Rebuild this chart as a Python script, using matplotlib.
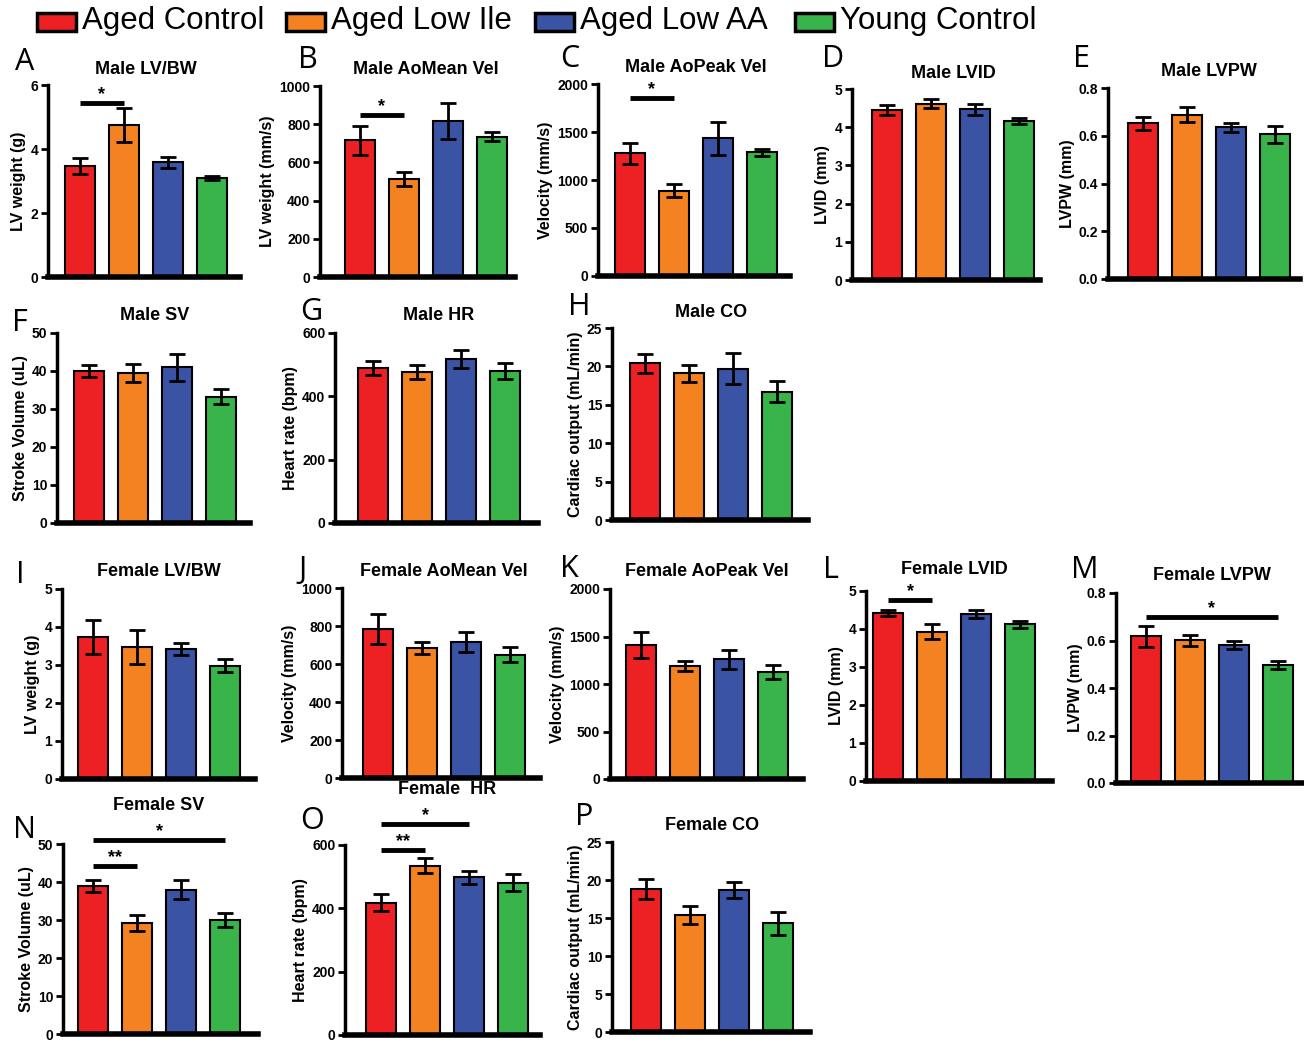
import matplotlib.pyplot as plt
from matplotlib.patches import Rectangle

W, H = 1304, 1047

groups = ["Aged Control", "Aged Low Ile", "Aged Low AA", "Young Control"]
colors = ["#ED2024", "#F58220", "#3A53A4", "#38B44A"]

# mean and SEM per group
male_lvbw = [3.48, 4.75, 3.58, 3.10]
male_lvbw_sem = [0.25, 0.52, 0.18, 0.07]
male_aomean = [715, 513, 818, 735]
male_aomean_sem = [78, 38, 93, 22]
male_aopeak = [1280, 890, 1435, 1290]
male_aopeak_sem = [110, 65, 170, 35]
male_lvid = [4.45, 4.62, 4.47, 4.17]
male_lvid_sem = [0.12, 0.13, 0.15, 0.08]
male_lvpw = [0.652, 0.688, 0.635, 0.606]
male_lvpw_sem = [0.028, 0.032, 0.020, 0.035]
male_sv = [40.0, 39.5, 41.0, 33.2]
male_sv_sem = [1.7, 2.4, 3.5, 2.0]
male_hr = [490, 477, 518, 481]
male_hr_sem = [22, 22, 27, 25]
male_co = [20.4, 19.1, 19.7, 16.7]
male_co_sem = [1.2, 1.1, 2.0, 1.35]

female_lvbw = [3.73, 3.47, 3.43, 2.98]
female_lvbw_sem = [0.45, 0.45, 0.16, 0.17]
female_aomean = [783, 683, 715, 650]
female_aomean_sem = [78, 32, 53, 42]
female_aopeak = [1410, 1190, 1260, 1130]
female_aopeak_sem = [140, 55, 100, 75]
female_lvid = [4.43, 3.93, 4.40, 4.12]
female_lvid_sem = [0.08, 0.19, 0.11, 0.10]
female_lvpw = [0.617, 0.601, 0.582, 0.496]
female_lvpw_sem = [0.045, 0.023, 0.018, 0.017]
female_sv = [39.0, 29.2, 38.0, 30.0]
female_sv_sem = [1.6, 2.0, 2.5, 1.8]
female_hr = [418, 535, 498, 481]
female_hr_sem = [26, 23, 20, 27]
female_co = [18.8, 15.4, 18.7, 14.3]
female_co_sem = [1.3, 1.2, 1.1, 1.5]

# letter, title, y label, means, sem, y max, tick step, tick format, significance (i, j, y, text)
panels = [
    ("A", "Male LV/BW", "LV weight (g)", male_lvbw, male_lvbw_sem, 6, 2, "{:.0f}", [(0, 1, 5.44, "*")]),
    ("B", "Male AoMean Vel", "LV weight (mm/s)", male_aomean, male_aomean_sem, 1000, 200, "{:.0f}", [(0, 1, 848, "*")]),
    ("C", "Male AoPeak Vel", "Velocity (mm/s)", male_aopeak, male_aopeak_sem, 2000, 500, "{:.0f}", [(0, 1, 1854, "*")]),
    ("D", "Male LVID", "LVID (mm)", male_lvid, male_lvid_sem, 5, 1, "{:.0f}", []),
    ("E", "Male LVPW", "LVPW (mm)", male_lvpw, male_lvpw_sem, 0.8, 0.2, "{:.1f}", []),
    ("F", "Male SV", "Stroke Volume (uL)", male_sv, male_sv_sem, 50, 10, "{:.0f}", []),
    ("G", "Male HR", "Heart rate (bpm)", male_hr, male_hr_sem, 600, 200, "{:.0f}", []),
    ("H", "Male CO", "Cardiac output (mL/min)", male_co, male_co_sem, 25, 5, "{:.0f}", []),
    ("I", "Female LV/BW", "LV weight (g)", female_lvbw, female_lvbw_sem, 5, 1, "{:.0f}", []),
    ("J", "Female AoMean Vel", "Velocity (mm/s)", female_aomean, female_aomean_sem, 1000, 200, "{:.0f}", []),
    ("K", "Female AoPeak Vel", "Velocity (mm/s)", female_aopeak, female_aopeak_sem, 2000, 500, "{:.0f}", []),
    ("L", "Female LVID", "LVID (mm)", female_lvid, female_lvid_sem, 5, 1, "{:.0f}", [(0, 1, 4.76, "*")]),
    ("M", "Female LVPW", "LVPW (mm)", female_lvpw, female_lvpw_sem, 0.8, 0.2, "{:.1f}", [(0, 3, 0.699, "*")]),
    ("N", "Female SV", "Stroke Volume (uL)", female_sv, female_sv_sem, 50, 10, "{:.0f}",
     [(0, 1, 44.2, "**"), (0, 3, 51.0, "*")]),
    ("O", "Female  HR", "Heart rate (bpm)", female_hr, female_hr_sem, 600, 200, "{:.0f}",
     [(0, 1, 584, "**"), (0, 2, 666, "*")]),
    ("P", "Female CO", "Cardiac output (mL/min)", female_co, female_co_sem, 25, 5, "{:.0f}", []),
]

# pixel layout: y-axis x, top tick y, baseline y, first bar centre, axis right end,
# letter (x, y), title y
layout = {
    "A": (48, 85, 277, 80, 240, 15, 47, 70),
    "B": (320, 86, 277, 360, 515, 298, 45, 70),
    "C": (598, 84, 276, 630, 790, 560, 44, 67),
    "D": (852, 89, 280, 887, 1040, 822, 44, 73),
    "E": (1108, 88, 279, 1143, 1300, 1073, 44, 72),
    "F": (57, 333, 523, 89, 250, 12, 308, 316),
    "G": (335, 333, 523, 373, 538, 300, 297, 316),
    "H": (612, 328, 520, 645, 808, 568, 292, 312),
    "I": (62, 589, 779, 93, 255, 16, 560, 572),
    "J": (342, 588, 778, 378, 540, 298, 555, 571),
    "K": (610, 589, 779, 641, 803, 560, 554, 572),
    "L": (866, 591, 781, 888, 1052, 823, 555, 569),
    "M": (1116, 593, 783, 1146, 1303, 1071, 555, 576),
    "N": (63, 844, 1034, 93, 258, 13, 815, 805),
    "O": (345, 845, 1035, 381, 540, 300, 806, 790),
    "P": (612, 842, 1032, 646, 810, 575, 802, 826),
}

STEP = 44.0  # pixels between bar centres

plt.rcParams["font.family"] = ["Liberation Sans", "DejaVu Sans"]
fig = plt.figure(figsize=(W / 100, H / 100), dpi=100)

for letter, title, ylabel, means, sems, ymax, ystep, fmt, sigs in panels:
    x0, top, bot, first, right, lx, ly, ty = layout[letter]
    ax = fig.add_axes([x0 / W, 1 - bot / H, (right - x0) / W, (bot - top) / H])
    xs = list(range(len(means)))
    ax.bar(xs, means, width=0.68, color=colors, edgecolor="black", linewidth=1.5, zorder=2)
    ax.errorbar(xs, means, yerr=sems, fmt="none", ecolor="black", elinewidth=2,
                capsize=6, capthick=2, zorder=3)
    left = -(first - x0) / STEP
    ax.set_xlim(left, left + (right - x0) / STEP)
    ax.set_ylim(0, ymax)
    ticks = [i * ystep for i in range(int(round(ymax / ystep)) + 1)]
    ax.set_yticks(ticks)
    ax.set_yticklabels([fmt.format(t) for t in ticks], fontsize=10, fontweight="bold")
    ax.set_xticks([])
    ax.tick_params(axis="y", width=2, length=5, pad=2)
    for s in ["top", "right"]:
        ax.spines[s].set_visible(False)
    ax.spines["left"].set_linewidth(2.5)
    ax.spines["bottom"].set_linewidth(4)
    ax.set_ylabel(ylabel, fontsize=11.5, fontweight="bold", labelpad=3)
    ax.patch.set_alpha(0)

    for i, j, y, txt in sigs:
        ax.plot([i, j], [y, y], color="black", linewidth=3.5, clip_on=False, solid_capstyle="butt")
        ax.text((i + j) / 2, y, txt, ha="center", va="bottom", fontsize=13, fontweight="bold",
                clip_on=False)

    fig.text((first + 1.5 * STEP) / W, 1 - ty / H, title, ha="center", va="center",
             fontsize=13, fontweight="bold")
    fig.text(lx / W, 1 - ly / H, letter, ha="left", va="top", fontsize=22,
             family=["Open Sans", "DejaVu Sans"])

# legend drawn by hand along the top
legend_x = [37, 286, 535, 795]
for gx, g, c in zip(legend_x, groups, colors):
    fig.patches.append(Rectangle((gx / W, 1 - 31 / H), 39 / W, 18 / H, transform=fig.transFigure,
                                 facecolor=c, edgecolor="black", linewidth=2.5))
    fig.text((gx + 45) / W, 1 - 29 / H, g, ha="left", va="baseline", fontsize=22.5)

fig.savefig("out.png", dpi=100)
